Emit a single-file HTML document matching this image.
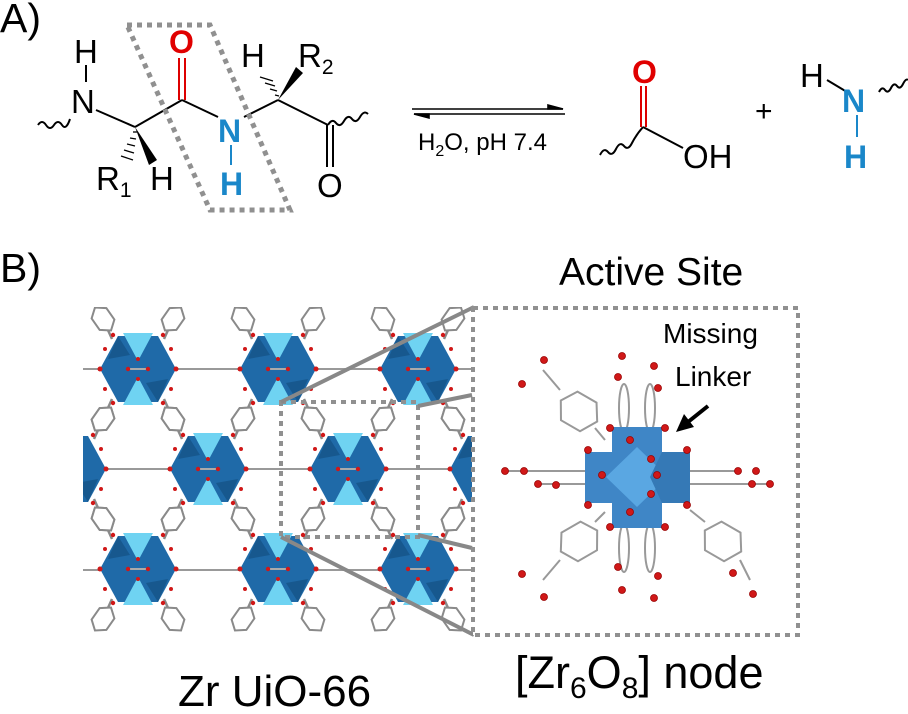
<!DOCTYPE html>
<html><head><meta charset="utf-8"><style>
html,body{margin:0;padding:0;background:#fff;width:908px;height:714px;overflow:hidden}
svg{display:block;font-family:"Liberation Sans",Arial,sans-serif}
</style></head><body>
<svg width="908" height="714" viewBox="0 0 908 714" xmlns="http://www.w3.org/2000/svg">
<defs>
<g id="ring"><polygon points="0,-14 9,-7 9,7 0,14 -9,7 -9,-7" fill="#fff" stroke="#8a8a8a" stroke-width="2"/></g>
<g id="node">
 <line x1="-38" y1="0" x2="38" y2="0" stroke="#999" stroke-width="2"/>
 <path d="M-26,-30 L-35,-50 M26,-30 L35,-50 M-26,30 L-35,50 M26,30 L35,50" stroke="#8a8a8a" stroke-width="2.5"/>
 <polygon points="-38,0 -20,-33 20,-33 38,0 20,33 -20,33" fill="#1f6aa8"/>
 <polygon points="-15,-36 15,-36 0,-8" fill="#6fd3f2"/>
 <polygon points="-15,36 15,36 0,8" fill="#6fd3f2"/>
 <polygon points="-30,-10 -20,-33 -8,-14" fill="#17588e"/>
 <polygon points="30,10 20,33 8,14" fill="#17588e"/>
 <line x1="-12" y1="0" x2="12" y2="0" stroke="#aaa" stroke-width="2"/>
 <g fill="#d01818"><circle cx="-38" cy="0" r="2.5"/><circle cx="38" cy="0" r="2.5"/><circle cx="-10" cy="0" r="2.2"/><circle cx="10" cy="0" r="2.2"/><circle cx="0" cy="-10" r="2"/><circle cx="0" cy="10" r="2"/>
 <circle cx="-25" cy="-34" r="2.2"/><circle cx="25" cy="-34" r="2.2"/><circle cx="-25" cy="34" r="2.2"/><circle cx="25" cy="34" r="2.2"/><circle cx="-33" cy="-20" r="2"/><circle cx="33" cy="-20" r="2"/><circle cx="-33" cy="20" r="2"/><circle cx="33" cy="20" r="2"/></g>
 <use href="#ring" transform="translate(-35,-50) rotate(-35)"/><use href="#ring" transform="translate(35,-50) rotate(35)"/>
 <use href="#ring" transform="translate(-35,50) rotate(35)"/><use href="#ring" transform="translate(35,50) rotate(-35)"/>
</g>
<clipPath id="lat"><rect x="83" y="307" width="389" height="327"/></clipPath>
</defs>

<!-- A) -->
<text x="0" y="32" font-size="41">A)</text>
<g stroke="#000" stroke-width="2" fill="none">
 <path d="M38,125 q4,-6 8,0 q4,6 8,0 q4,-6 8,0 q4,6 8,-6"/>
 <line x1="86" y1="65" x2="86" y2="82"/>
 <line x1="96" y1="110" x2="135" y2="127"/>
 <line x1="135" y1="127" x2="182" y2="100"/>
 <line x1="182" y1="100" x2="218" y2="117"/>
 <line x1="244" y1="117" x2="278" y2="100"/>
 <line x1="278" y1="100" x2="328" y2="125"/>
 <path d="M328,125 q4,-7 8,-2 q4,5 8,-2 q4,-7 8,-2 q4,5 8,-2 q4,-7 8,-3"/>
</g>
<g stroke="#d00" stroke-width="2"><line x1="179" y1="100" x2="179" y2="58"/><line x1="185" y1="100" x2="185" y2="58"/></g>
<g stroke="#000" stroke-width="2"><line x1="327" y1="125" x2="327" y2="167"/><line x1="333" y1="125" x2="333" y2="167"/></g>
<line x1="231" y1="145" x2="231" y2="165" stroke="#1a87c9" stroke-width="2"/>
<polygon points="135,127 149,165 157,160" fill="#000"/>
<g stroke="#000" stroke-width="1.3"><line x1="133" y1="132" x2="137" y2="132"/><line x1="130" y1="138" x2="136" y2="139"/><line x1="127" y1="144" x2="135" y2="146"/><line x1="124" y1="150" x2="134" y2="153"/><line x1="121" y1="156" x2="133" y2="160"/>
<line x1="275" y1="95" x2="279" y2="96"/><line x1="270" y1="89" x2="277" y2="91"/><line x1="265" y1="83" x2="275" y2="86"/><line x1="260" y1="77" x2="273" y2="81"/></g>
<polygon points="278,100 296,67 303,73" fill="#000"/>
<g font-size="33">
<text x="74" y="63">H</text>
<text x="71" y="113">N</text>
<text x="96" y="190">R<tspan font-size="21" dy="7">1</tspan></text>
<text x="150" y="190">H</text>
<text x="241" y="67">H</text>
<text x="298" y="67">R<tspan font-size="21" dy="7">2</tspan></text>
<text x="317" y="197">O</text>
</g>
<text x="169" y="53" font-size="32" font-weight="bold" fill="#e00000">O</text>
<text x="218" y="142" font-size="32" font-weight="bold" fill="#1a87c9">N</text>
<text x="220" y="195" font-size="32" font-weight="bold" fill="#1a87c9">H</text>
<polygon points="127,25 210,25 290,210 210,210" fill="none" stroke="#909090" stroke-width="5" stroke-dasharray="5,5"/>

<!-- arrows -->
<g stroke="#000" stroke-width="1.6">
<line x1="412" y1="109" x2="563" y2="109"/><polygon points="563,109 548,105 548,109" fill="#000"/>
<line x1="414" y1="114" x2="565" y2="114"/><polygon points="414,114 429,118 429,114" fill="#000"/>
</g>
<text x="418" y="150" font-size="24">H<tspan font-size="16" dy="6">2</tspan><tspan dy="-6">O, pH 7.4</tspan></text>

<!-- acid -->
<g stroke="#d00" stroke-width="2"><line x1="641" y1="127" x2="641" y2="86"/><line x1="646" y1="127" x2="646" y2="86"/></g>
<text x="632" y="83" font-size="32" font-weight="bold" fill="#e00000">O</text>
<path d="M600,155 q4,-8 8,-3 q4,5 8,-3 q4,-8 8,-3 q4,5 8,-3 q4,-8 11,-16" stroke="#000" stroke-width="2" fill="none"/>
<line x1="643" y1="127" x2="683" y2="148" stroke="#000" stroke-width="2"/>
<text x="683" y="168" font-size="33">OH</text>
<text x="755" y="121" font-size="30">+</text>
<text x="800" y="87" font-size="33">H</text>
<line x1="827" y1="80" x2="847" y2="92" stroke="#000" stroke-width="2"/>
<text x="842" y="112" font-size="32" font-weight="bold" fill="#1a87c9">N</text>
<line x1="857" y1="115" x2="857" y2="137" stroke="#1a87c9" stroke-width="2"/>
<text x="844" y="168" font-size="32" font-weight="bold" fill="#1a87c9">H</text>
<path d="M879,92 q3,-6 6,-2 q3,4 6,-2 q3,-6 6,-2 q3,4 6,-2 q3,-6 5,-4" stroke="#000" stroke-width="2" fill="none"/>

<!-- B) -->
<text x="0" y="282" font-size="41">B)</text>
<text x="559" y="285" font-size="39">Active Site</text>

<g clip-path="url(#lat)">
<g stroke="#999" stroke-width="2"><line x1="83" y1="369" x2="472" y2="369"/><line x1="83" y1="469" x2="472" y2="469"/><line x1="83" y1="570" x2="472" y2="570"/></g>
<use href="#node" x="138" y="369"/><use href="#node" x="278" y="369"/><use href="#node" x="418" y="369"/>
<use href="#node" x="68" y="469"/><use href="#node" x="208" y="469"/><use href="#node" x="348" y="469"/><use href="#node" x="488" y="469"/>
<use href="#node" x="138" y="569"/><use href="#node" x="278" y="569"/><use href="#node" x="418" y="569"/>
</g>
<rect x="281" y="402" width="137" height="135" fill="none" stroke="#909090" stroke-width="4" stroke-dasharray="5,5"/>
<g stroke="#888" stroke-width="4"><line x1="281" y1="402" x2="474" y2="307"/><line x1="418" y1="406" x2="472" y2="395"/><line x1="281" y1="537" x2="474" y2="635"/><line x1="418" y1="535" x2="472" y2="548"/></g>
<rect x="473" y="308" width="325" height="327" fill="#fff" stroke="#909090" stroke-width="4" stroke-dasharray="5,5"/>

<!-- active site node -->
<g stroke="#999" stroke-width="2" fill="none">
<line x1="505" y1="471" x2="585" y2="471"/><line x1="538" y1="484" x2="585" y2="484"/>
<line x1="690" y1="471" x2="738" y2="471"/><line x1="690" y1="484" x2="770" y2="484"/>
<ellipse cx="624" cy="408" rx="5" ry="24"/><ellipse cx="650" cy="408" rx="5" ry="24"/>
<ellipse cx="624" cy="548" rx="5" ry="24"/><ellipse cx="650" cy="548" rx="5" ry="24"/>
<polygon points="568,395 590,395 600,411 590,428 568,428 558,411" transform="rotate(30 579 411)"/>
<polygon points="568,395 590,395 600,411 590,428 568,428 558,411" transform="translate(0,130) rotate(-30 579 411)"/>
<polygon points="568,395 590,395 600,411 590,428 568,428 558,411" transform="translate(144,130) rotate(30 579 411)"/>
<line x1="560" y1="390" x2="543" y2="370"/><line x1="595" y1="428" x2="605" y2="440"/>
<line x1="560" y1="560" x2="543" y2="580"/><line x1="595" y1="522" x2="605" y2="512"/>
<line x1="740" y1="560" x2="750" y2="580"/><line x1="705" y1="522" x2="690" y2="510"/>
</g>
<polygon points="612,427 662,427 662,452 690,452 690,503 662,503 662,528 612,528 612,503 585,503 585,452 612,452" fill="#3f86c6"/>
<polygon points="637,447 668,477 637,507 606,477" fill="#5aa7e2"/>
<polygon points="662,452 690,452 690,503 662,503 650,477" fill="#3579b6"/>
<g fill="#d01818" stroke="#900" stroke-width="0.8">
<circle cx="505" cy="471" r="3.5"/><circle cx="524" cy="471" r="3.5"/><circle cx="538" cy="484" r="3.5"/><circle cx="556" cy="485" r="3.5"/><circle cx="602" cy="475" r="3.5"/>
<circle cx="738" cy="471" r="3.5"/><circle cx="756" cy="471" r="3.5"/><circle cx="752" cy="484" r="3.5"/><circle cx="770" cy="484" r="3.5"/><circle cx="657" cy="475" r="3.5"/>
<circle cx="622" cy="356" r="3.5"/><circle cx="618" cy="377" r="3.5"/><circle cx="654" cy="366" r="3.5"/><circle cx="658" cy="388" r="3.5"/>
<circle cx="622" cy="590" r="3.5"/><circle cx="618" cy="567" r="3.5"/><circle cx="654" cy="598" r="3.5"/><circle cx="658" cy="576" r="3.5"/>
<circle cx="544" cy="360" r="3.5"/><circle cx="522" cy="384" r="3.5"/>
<circle cx="522" cy="574" r="3.5"/><circle cx="544" cy="597" r="3.5"/>
<circle cx="753" cy="594" r="3.5"/><circle cx="733" cy="573" r="3.5"/>
<circle cx="610" cy="428" r="3.5"/><circle cx="665" cy="428" r="3.5"/><circle cx="630" cy="440" r="3.5"/><circle cx="651" cy="459" r="3.5"/>
<circle cx="588" cy="450" r="3.5"/><circle cx="687" cy="450" r="3.5"/><circle cx="588" cy="505" r="3.5"/><circle cx="687" cy="505" r="3.5"/>
<circle cx="610" cy="527" r="3.5"/><circle cx="665" cy="527" r="3.5"/><circle cx="630" cy="512" r="3.5"/><circle cx="651" cy="494" r="3.5"/>
</g>
<text x="663" y="343" font-size="28">Missing</text>
<text x="675" y="386" font-size="28">Linker</text>
<line x1="708" y1="406" x2="688" y2="422" stroke="#000" stroke-width="4"/>
<polygon points="676,432 684,414 694,427" fill="#000"/>

<text x="178" y="706" font-size="44">Zr UiO-66</text>
<text x="515" y="688" font-size="45">[Zr<tspan font-size="30" dy="10">6</tspan><tspan dy="-10">O</tspan><tspan font-size="30" dy="10">8</tspan><tspan dy="-10">] node</tspan></text>
</svg>
</body></html>
